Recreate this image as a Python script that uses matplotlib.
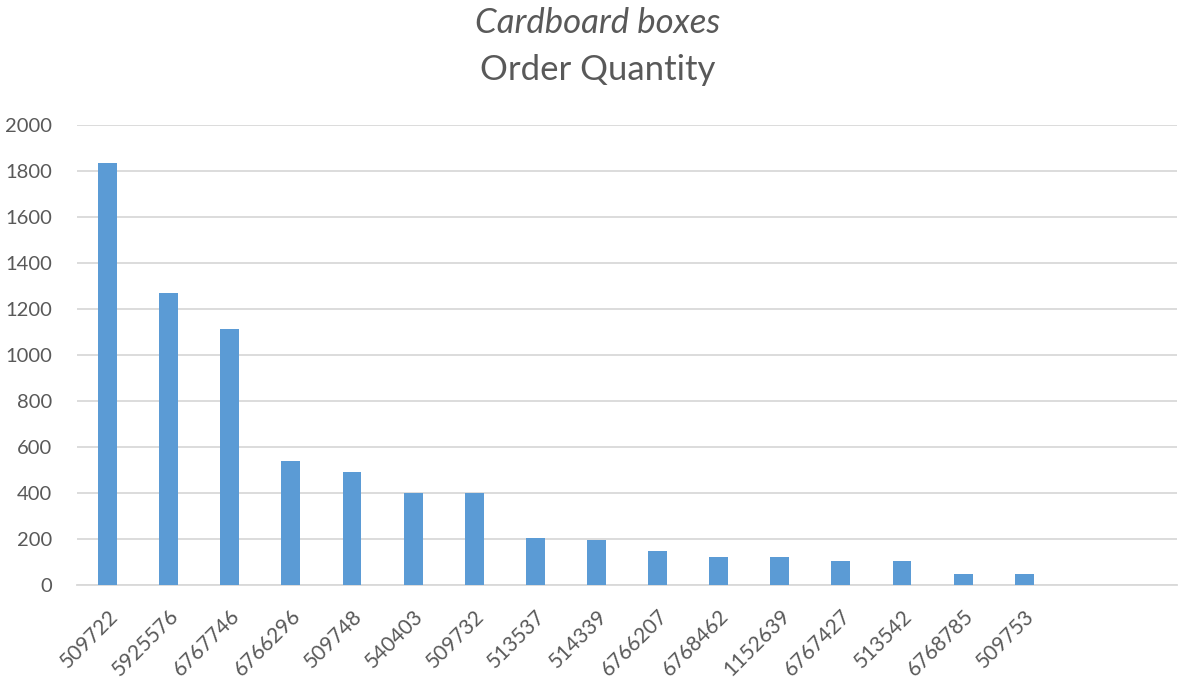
import matplotlib
matplotlib.use("Agg")
import matplotlib.pyplot as plt

categories = ["509722", "5925576", "6767746", "6766296", "509748", "540403",
              "509732", "513537", "514339", "6766207", "6768462", "1152639",
              "6767427", "513542", "6768785", "509753"]
values = [1833, 1270, 1113, 540, 493, 400, 400, 205, 196, 150, 121, 121,
          104, 104, 47, 47]
yticks = [0, 200, 400, 600, 800, 1000, 1200, 1400, 1600, 1800, 2000]
n_slots = 18  # category axis has two empty slots at the end

FONT = ["Lato", "DejaVu Sans"]
TXT = "#595959"
BAR = "#5B9BD5"
GRID = "#D9D9D9"

fig = plt.figure(figsize=(11.78, 6.83), dpi=100)
ax = fig.add_axes([77/1178, (683-585)/683, (1177-77)/1178, (585-125)/683])

x = list(range(len(categories)))
ax.bar(x, values, width=0.31, color=BAR, zorder=3)

ax.set_xlim(-0.5, n_slots - 0.5)
ax.set_ylim(0, 2000)
ax.set_yticks(yticks)
ax.set_yticklabels([str(v) for v in yticks], family=FONT, fontsize=14.5, color=TXT)
ax.set_xticks(x)
ax.set_xticklabels(categories, rotation=45, ha="right", rotation_mode="anchor",
                   family=FONT, fontsize=15, color=TXT)
ax.tick_params(axis="both", length=0)
ax.tick_params(axis="y", pad=18)
ax.tick_params(axis="x", pad=15)

ax.yaxis.grid(True, color=GRID, linewidth=1.3, zorder=0)
for s in ["top", "right", "left"]:
    ax.spines[s].set_visible(False)
ax.spines["bottom"].set_color(GRID)
ax.spines["bottom"].set_linewidth(1.3)

fig.text(0.507, 1 - 23/683, "Cardboard boxes", ha="center", va="center",
         family=FONT, fontsize=25, style="italic", color=TXT)
fig.text(0.507, 1 - 70/683, "Order Quantity", ha="center", va="center",
         family=FONT, fontsize=25, color=TXT)

fig.savefig("out.png", dpi=100)
